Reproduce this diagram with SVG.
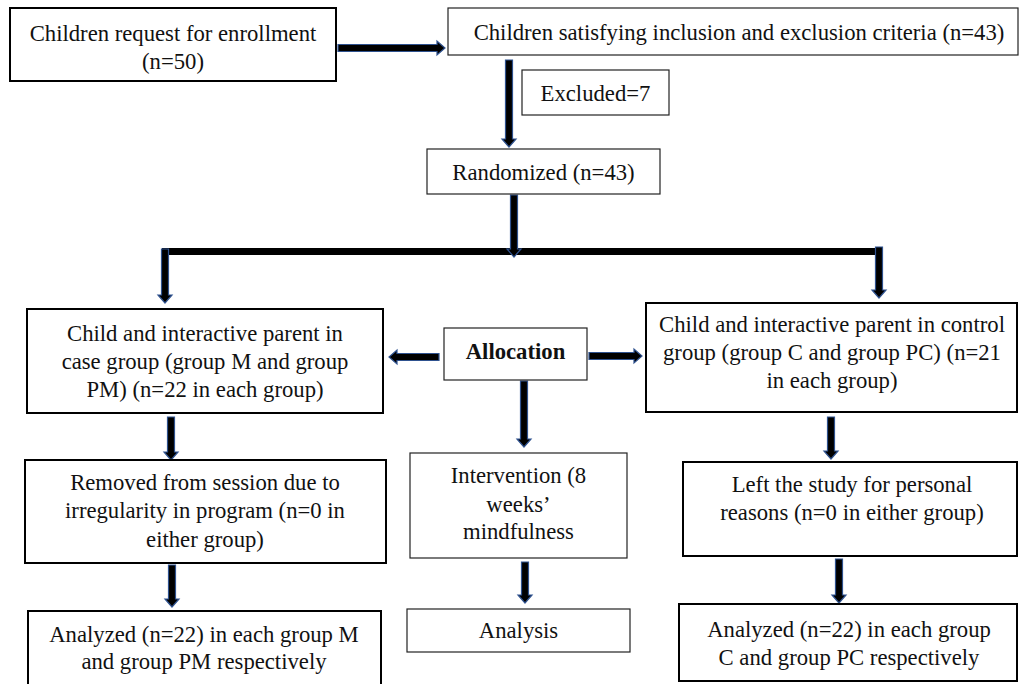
<svg xmlns="http://www.w3.org/2000/svg" width="1019" height="684" viewBox="0 0 1019 684">
<style>
.b2{fill:#fff;stroke:#000;stroke-width:2}
.b1{fill:#fff;stroke:#222;stroke-width:1.2}
text{font-family:"Liberation Serif","Times New Roman",serif;font-size:22.7px;fill:#111;text-anchor:middle}
.bold{font-weight:bold}
.arr{fill:#000;stroke:#2F528F;stroke-width:1.2;stroke-linejoin:miter}
</style>
<rect width="1019" height="684" fill="#fff"/>
<g id="connectors">
<polygon class="arr" points="338,44.5 437,44.5 437,41 445,48 437,55 437,51.5 338,51.5"/>
<polygon class="arr" points="505.5,60 512.5,60 512.5,139 516,139 509,147 502,139 505.5,139"/>
<rect x="162" y="248" width="718" height="7" fill="#000"/>
<polygon class="arr" points="510.5,195 517.5,195 517.5,249 521,249 514,257 507,249 510.5,249"/>
<polygon class="arr" points="161.5,249 168.5,249 168.5,295 172,295 165,303 158,295 161.5,295"/>
<polygon class="arr" points="875.5,247 882.5,247 882.5,290 886,290 879,298 872,290 875.5,290"/>
<polygon class="arr" points="439,353.5 397,353.5 397,350 389,357 397,364 397,360.5 439,360.5"/>
<polygon class="arr" points="589,352.5 634,352.5 634,349 642,356 634,363 634,359.5 589,359.5"/>
<polygon class="arr" points="520.5,381 527.5,381 527.5,439 531,439 524,447 517,439 520.5,439"/>
<polygon class="arr" points="167.5,417 174.5,417 174.5,452 178,452 171,460 164,452 167.5,452"/>
<polygon class="arr" points="168.5,565 175.5,565 175.5,599 179,599 172,607 165,599 168.5,599"/>
<polygon class="arr" points="521.5,562 528.5,562 528.5,595 532,595 525,603 518,595 521.5,595"/>
<polygon class="arr" points="827.5,417 834.5,417 834.5,451 838,451 831,459 824,451 827.5,451"/>
<polygon class="arr" points="835.5,559 842.5,559 842.5,595 846,595 839,603 832,595 835.5,595"/>
</g>
<g id="enroll">
<rect class="b2" x="10" y="8" width="326" height="73"/>
<text x="173" y="40.5">Children request for enrollment</text>
<text x="173" y="68.5">(n=50)</text>
</g>
<g id="criteria">
<rect class="b1" x="448" y="8" width="570" height="47"/>
<text x="739" y="40">Children satisfying inclusion and exclusion criteria (n=43)</text>
</g>
<g id="excluded">
<rect class="b1" x="522" y="70" width="147" height="45"/>
<text x="595.5" y="101">Excluded=7</text>
</g>
<g id="randomized">
<rect class="b1" x="427" y="149" width="233" height="45"/>
<text x="543.5" y="180">Randomized (n=43)</text>
</g>
<g id="case">
<rect class="b2" x="27" y="309" width="356" height="104"/>
<text x="205" y="341">Child and interactive parent in</text>
<text x="205" y="369">case group (group M and group</text>
<text x="205" y="397">PM) (n=22 in each group)</text>
</g>
<g id="allocation">
<rect class="b1" x="444" y="328" width="143" height="52"/>
<text class="bold" x="515.5" y="359">Allocation</text>
</g>
<g id="control">
<rect class="b2" x="646" y="303" width="371" height="109"/>
<text x="832" y="332">Child and interactive parent in control</text>
<text x="832" y="360">group (group C and group PC) (n=21</text>
<text x="832" y="388">in each group)</text>
</g>
<g id="removed">
<rect class="b2" x="25" y="460" width="361" height="103"/>
<text x="205" y="490">Removed from session due to</text>
<text x="205" y="518">irregularity in program (n=0 in</text>
<text x="205" y="547">either group)</text>
</g>
<g id="intervention">
<rect class="b1" x="410" y="453" width="217" height="105"/>
<text x="518.5" y="483">Intervention (8</text>
<text x="518.5" y="512">weeks’</text>
<text x="518.5" y="539">mindfulness</text>
</g>
<g id="left-study">
<rect class="b2" x="683" y="462" width="334" height="94"/>
<text x="852" y="492">Left the study for personal</text>
<text x="852" y="520">reasons (n=0 in either group)</text>
</g>
<g id="analyzed-m">
<rect class="b2" x="28" y="611" width="353" height="80"/>
<text x="204" y="642">Analyzed (n=22) in each group M</text>
<text x="204" y="669">and group PM respectively</text>
</g>
<g id="analysis">
<rect class="b1" x="407" y="609" width="223" height="43"/>
<text x="518.5" y="638">Analysis</text>
</g>
<g id="analyzed-c">
<rect class="b2" x="679" y="604" width="338" height="77"/>
<text x="849" y="637">Analyzed (n=22) in each group</text>
<text x="849" y="665">C and group PC respectively</text>
</g>
</svg>
